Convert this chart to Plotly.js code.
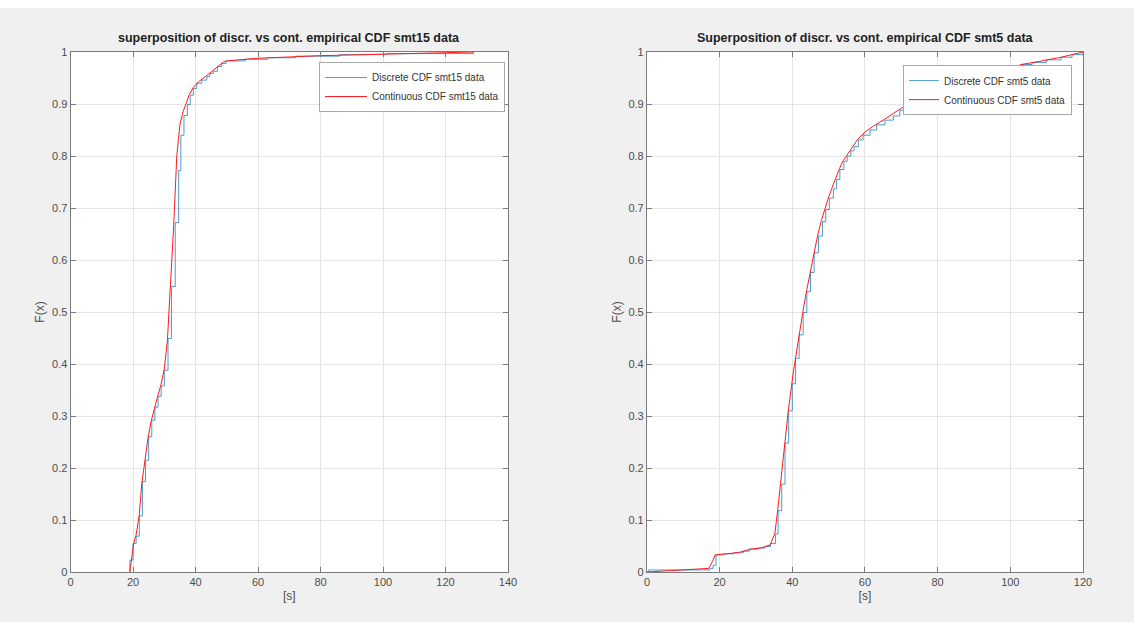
<!DOCTYPE html>
<html>
<head>
<meta charset="utf-8">
<script src="https://cdn.plot.ly/plotly-3.0.1.min.js"></script>
<style>
  html, body { margin: 0; padding: 0; background: #ffffff; }
  #plot { position: absolute; left: 0; top: 8px; width: 1134px; height: 614px; }
</style>
</head>
<body>
<div id="plot"></div>
<script>
// ---------------- data ----------------
// Left: smt15 data
const leftDiscreteX = [19, 19, 20, 21, 22, 23, 24, 25, 26, 27, 28, 29, 30, 31.2, 32.3, 33.5, 34.6, 35.3, 36.3, 37.4, 38.3, 39.3, 40.4, 42, 43.6, 44.6, 45.7, 47, 48.4, 49.8, 56, 63, 72, 86, 101, 129];
const leftDiscreteF = [0, 0.023, 0.055, 0.069, 0.108, 0.174, 0.215, 0.26, 0.292, 0.317, 0.338, 0.358, 0.388, 0.449, 0.549, 0.672, 0.772, 0.84, 0.878, 0.899, 0.917, 0.93, 0.94, 0.946, 0.953, 0.959, 0.963, 0.972, 0.978, 0.983, 0.986, 0.989, 0.992, 0.995, 0.997, 1.0];
const leftContX = [19, 19.6, 20.2, 21, 22, 22.8, 23.8, 24.8, 25.8, 26.8, 27.8, 28.8, 30, 31, 32, 33, 34, 35, 36, 37, 38, 39.3, 41, 43, 45, 47, 49, 50, 60, 80, 100, 129];
const leftContF = [0, 0.03, 0.055, 0.072, 0.11, 0.17, 0.215, 0.258, 0.29, 0.315, 0.336, 0.357, 0.39, 0.445, 0.545, 0.665, 0.8, 0.86, 0.885, 0.903, 0.918, 0.932, 0.943, 0.952, 0.962, 0.972, 0.981, 0.983, 0.988, 0.993, 0.996, 1.0];

// Right: smt5 data
const rightDiscreteX = [0, 0.5, 17.3, 18.2, 19, 21, 24, 26.5, 28.2, 30.5, 32.5, 34, 35.4, 36.1, 37.1, 38, 39, 40, 40.9, 41.9, 43, 44, 45, 46, 47.2, 48.3, 49.2, 50.2, 51.3, 52.2, 53.1, 54.2, 55.1, 56.1, 57, 58.2, 59.5, 61.4, 63.2, 65.5, 67.8, 69.6, 71.5, 74.2, 77, 80, 84, 89, 94, 99, 103, 106, 110, 114, 117, 120];
const rightDiscreteF = [0, 0.004, 0.007, 0.013, 0.033, 0.035, 0.037, 0.04, 0.044, 0.046, 0.049, 0.055, 0.073, 0.118, 0.169, 0.248, 0.31, 0.362, 0.411, 0.456, 0.499, 0.539, 0.576, 0.614, 0.646, 0.674, 0.697, 0.719, 0.737, 0.755, 0.774, 0.79, 0.80, 0.81, 0.818, 0.831, 0.84, 0.85, 0.86, 0.869, 0.877, 0.888, 0.898, 0.904, 0.917, 0.925, 0.935, 0.945, 0.955, 0.965, 0.976, 0.98, 0.985, 0.99, 0.995, 1.0];
const rightContX = [0, 17, 18, 18.8, 22, 25.5, 28.4, 31.1, 33.9, 35.2, 36, 37.5, 38.9, 40.3, 41.6, 43, 44, 45, 46, 47, 48, 49, 50, 51, 52, 53, 54, 56, 58, 60, 62, 65, 68, 70, 74, 77, 80, 90, 100, 103, 108, 114, 120];
const rightContF = [0, 0.007, 0.02, 0.033, 0.035, 0.038, 0.044, 0.046, 0.052, 0.074, 0.12, 0.222, 0.31, 0.385, 0.446, 0.504, 0.543, 0.58, 0.616, 0.648, 0.676, 0.7, 0.721, 0.74, 0.759, 0.776, 0.791, 0.812, 0.832, 0.846, 0.856, 0.869, 0.882, 0.892, 0.905, 0.917, 0.925, 0.947, 0.967, 0.976, 0.982, 0.99, 1.0];

const leftTitle = "superposition of discr. vs cont. empirical CDF smt15 data";
const rightTitle = "Superposition of discr. vs cont. empirical CDF smt5 data";
const leftNames = ["Discrete CDF smt15 data", "Continuous CDF smt15 data"];
const rightNames = ["Discrete CDF smt5 data", "Continuous CDF smt5 data"];
const leftXTicks = [0, 20, 40, 60, 80, 100, 120, 140];
const rightXTicks = [0, 20, 40, 60, 80, 100, 120];
const yTicks = [0, 0.1, 0.2, 0.3, 0.4, 0.5, 0.6, 0.7, 0.8, 0.9, 1];
const yTickText = ["0", "0.1", "0.2", "0.3", "0.4", "0.5", "0.6", "0.7", "0.8", "0.9", "1"];

// ---------------- styling ----------------
const FONT = "Liberation Sans, Arial, Helvetica, sans-serif";
const BLUE = "rgba(0,114,189,0.7)";
const RED = "#ff1a1a";
const AXC = "#7a7a7a";

const traces = [
  { x: leftDiscreteX, y: leftDiscreteF, mode: "lines", line: { shape: "hv", color: BLUE, width: 1 },
    name: leftNames[0], xaxis: "x", yaxis: "y", legend: "legend" },
  { x: leftContX, y: leftContF, mode: "lines", line: { color: RED, width: 1 },
    name: leftNames[1], xaxis: "x", yaxis: "y", legend: "legend" },
  { x: rightDiscreteX, y: rightDiscreteF, mode: "lines", line: { shape: "hv", color: BLUE, width: 1 },
    name: rightNames[0], xaxis: "x2", yaxis: "y2", legend: "legend2" },
  { x: rightContX, y: rightContF, mode: "lines", line: { color: RED, width: 1 },
    name: rightNames[1], xaxis: "x2", yaxis: "y2", legend: "legend2" }
];

function xAxis(domain, range, ticks) {
  return {
    domain: domain, range: range, tickvals: ticks, ticktext: ticks.map(String),
    showgrid: true, gridcolor: "#e4e4e4", gridwidth: 1, zeroline: false,
    showline: true, linecolor: AXC, linewidth: 1, mirror: "ticks",
    ticks: "inside", ticklen: 5, tickcolor: AXC,
    tickfont: { family: FONT, size: 11, color: "#4d4d4d" },
    title: { text: "[s]", font: { family: FONT, size: 12, color: "#4d4d4d" }, standoff: 4 },
    automargin: false, fixedrange: true
  };
}
function yAxis(anchor) {
  return {
    domain: [0.0814, 0.9283], range: [0, 1], tickvals: yTicks, ticktext: yTickText,
    showgrid: true, gridcolor: "#e4e4e4", gridwidth: 1, zeroline: false,
    showline: true, linecolor: AXC, linewidth: 1, mirror: "ticks",
    ticks: "inside", ticklen: 5, tickcolor: AXC, anchor: anchor,
    tickfont: { family: FONT, size: 11, color: "#4d4d4d" },
    title: { text: "F(x)", font: { family: FONT, size: 12, color: "#4d4d4d" }, standoff: 4 },
    automargin: false, fixedrange: true
  };
}

const legendCommon = {
  bgcolor: "#ffffff", bordercolor: "#a8a8a8", borderwidth: 1,
  font: { family: FONT, size: 10, color: "#333333" },
  xanchor: "right", yanchor: "top", tracegroupgap: 0
};

const layout = {
  width: 1134, height: 614,
  margin: { l: 0, r: 0, t: 0, b: 0 },
  paper_bgcolor: "#f0f0f0", plot_bgcolor: "#ffffff",
  showlegend: true,
  xaxis: Object.assign(xAxis([0.0622, 0.4480], [0, 140], leftXTicks), { anchor: "y" }),
  yaxis: yAxis("x"),
  xaxis2: Object.assign(xAxis([0.5705, 0.9550], [0, 120], rightXTicks), { anchor: "y2" }),
  yaxis2: yAxis("x2"),
  legend: Object.assign({}, legendCommon, { x: 0.4453, y: 0.912, itemwidth: 42 }),
  legend2: Object.assign({}, legendCommon, { x: 0.9453, y: 0.907, itemwidth: 30 }),
  annotations: [
    { text: leftTitle, xref: "paper", yref: "paper", x: 0.2551, y: 0.951, xanchor: "center", yanchor: "middle",
      showarrow: false, font: { family: FONT, size: 12.5, color: "#222222", weight: "bold" } },
    { text: rightTitle, xref: "paper", yref: "paper", x: 0.7628, y: 0.951, xanchor: "center", yanchor: "middle",
      showarrow: false, font: { family: FONT, size: 12.5, color: "#222222", weight: "bold" } }
  ]
};

Plotly.newPlot("plot", traces, layout, { displayModeBar: false, staticPlot: true });
</script>
</body>
</html>
